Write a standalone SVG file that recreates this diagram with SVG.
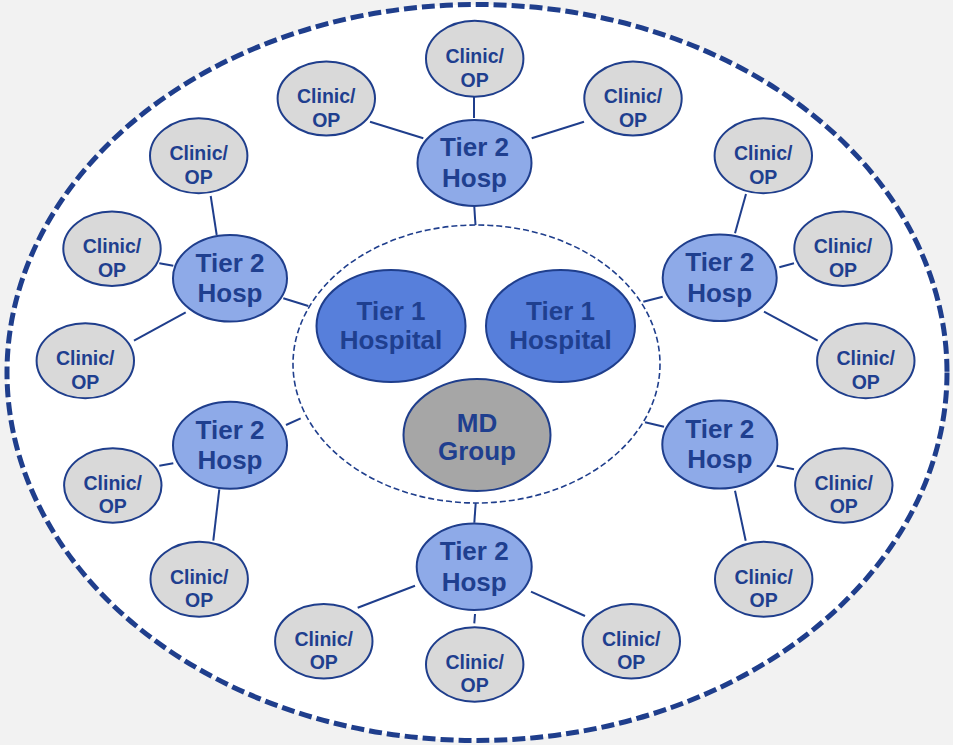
<svg xmlns="http://www.w3.org/2000/svg" width="953" height="745" viewBox="0 0 953 745">
<style>
.bg{fill:#f2f2f2}
.outer{fill:#ffffff;stroke:#1f3e8c;stroke-width:5;stroke-dasharray:13 5}
.inner{fill:none;stroke:#1f3e8c;stroke-width:1.6;stroke-dasharray:6 3}
.t1{fill:#577fdb;stroke:#1f3e8c;stroke-width:2}
.t2{fill:#8eaae8;stroke:#1f3e8c;stroke-width:2}
.md{fill:#a6a6a6;stroke:#1f3e8c;stroke-width:2}
.cl{fill:#d9d9d9;stroke:#1f3e8c;stroke-width:2}
.ln line{stroke:#1f3e8c;stroke-width:2}
text{font-family:"Liberation Sans",Arial,sans-serif;font-weight:bold;fill:#1f3f8f;text-anchor:middle}
.big{font-size:26px}
.sm{font-size:19.5px}
</style>
<rect class="bg" x="0" y="0" width="953" height="745"/>
<ellipse class="outer" cx="477" cy="372.5" rx="470" ry="368"/>
<ellipse class="inner" cx="476.5" cy="364" rx="183.5" ry="139"/>

<g id="connectors" class="ln">
<line x1="474" y1="97" x2="474" y2="118"/>
<line x1="370" y1="121.7" x2="423.3" y2="138.3"/>
<line x1="531.7" y1="138.3" x2="584" y2="121.7"/>
<line x1="474.3" y1="207" x2="475.5" y2="225"/>
<line x1="210.7" y1="196" x2="216.7" y2="235"/>
<line x1="159.3" y1="263.3" x2="173.3" y2="265.7"/>
<line x1="134" y1="340.7" x2="185.7" y2="312.3"/>
<line x1="283.3" y1="298.3" x2="308.3" y2="306"/>
<line x1="746" y1="194" x2="735" y2="233.3"/>
<line x1="779.3" y1="267.3" x2="794" y2="263.3"/>
<line x1="764" y1="311.7" x2="817.7" y2="340.7"/>
<line x1="662.7" y1="296.7" x2="643.3" y2="301.7"/>
<line x1="159.3" y1="465.7" x2="173.3" y2="463.3"/>
<line x1="219.3" y1="489.3" x2="213.3" y2="540.7"/>
<line x1="286" y1="425" x2="300.7" y2="418.3"/>
<line x1="776.7" y1="465.7" x2="794" y2="469.3"/>
<line x1="735" y1="490.7" x2="745.7" y2="540.7"/>
<line x1="645" y1="422.3" x2="664" y2="426.7"/>
<line x1="475.7" y1="503" x2="474.3" y2="522.7"/>
<line x1="415" y1="585.7" x2="357.7" y2="607.7"/>
<line x1="475" y1="614" x2="474.3" y2="623.3"/>
<line x1="531" y1="591.7" x2="585" y2="616"/>
</g>

<g id="tier1-left"><ellipse class="t1" cx="391" cy="326" rx="74.5" ry="56"/><text class="big" x="391" y="320">Tier 1</text><text class="big" x="391" y="349">Hospital</text></g>
<g id="tier1-right"><ellipse class="t1" cx="560.5" cy="326" rx="74.5" ry="56"/><text class="big" x="560.5" y="320">Tier 1</text><text class="big" x="560.5" y="349">Hospital</text></g>
<g id="md-group"><ellipse class="md" cx="477" cy="435" rx="73.5" ry="56"/><text class="big" x="477" y="431.5">MD</text><text class="big" x="477" y="460">Group</text></g>

<g id="t2-top"><ellipse class="t2" cx="474.5" cy="163" rx="57" ry="43"/><text class="big" x="474.5" y="156">Tier 2</text><text class="big" x="474.5" y="186.5">Hosp</text></g>
<g id="t2-ul"><ellipse class="t2" cx="230" cy="278.3" rx="57" ry="43.3"/><text class="big" x="230" y="271.5">Tier 2</text><text class="big" x="230" y="302">Hosp</text></g>
<g id="t2-ur"><ellipse class="t2" cx="719.7" cy="277.8" rx="57" ry="43.3"/><text class="big" x="719.7" y="271">Tier 2</text><text class="big" x="719.7" y="301.5">Hosp</text></g>
<g id="t2-ll"><ellipse class="t2" cx="230" cy="445.3" rx="57" ry="43.5"/><text class="big" x="230" y="438.5">Tier 2</text><text class="big" x="230" y="469">Hosp</text></g>
<g id="t2-lr"><ellipse class="t2" cx="719.8" cy="444.5" rx="57.5" ry="44"/><text class="big" x="719.8" y="437.5">Tier 2</text><text class="big" x="719.8" y="468">Hosp</text></g>
<g id="t2-bottom"><ellipse class="t2" cx="474.2" cy="566.7" rx="57.5" ry="43.3"/><text class="big" x="474.2" y="560">Tier 2</text><text class="big" x="474.2" y="590.5">Hosp</text></g>

<g id="c-top-mid"><ellipse class="cl" cx="474.7" cy="58.7" rx="48.7" ry="38"/><text class="sm" x="474.7" y="63">Clinic/</text><text class="sm" x="474.7" y="86.5">OP</text></g>
<g id="c-top-left"><ellipse class="cl" cx="326.3" cy="98.5" rx="48.7" ry="37"/><text class="sm" x="326.3" y="103">Clinic/</text><text class="sm" x="326.3" y="126.5">OP</text></g>
<g id="c-top-right"><ellipse class="cl" cx="633" cy="98.5" rx="48.7" ry="37"/><text class="sm" x="633" y="103">Clinic/</text><text class="sm" x="633" y="126.5">OP</text></g>

<g id="c-ul-top"><ellipse class="cl" cx="198.7" cy="155.8" rx="48.7" ry="37.5"/><text class="sm" x="198.7" y="160">Clinic/</text><text class="sm" x="198.7" y="183.5">OP</text></g>
<g id="c-ul-mid"><ellipse class="cl" cx="112" cy="248.8" rx="48.7" ry="37.2"/><text class="sm" x="112" y="253">Clinic/</text><text class="sm" x="112" y="276.5">OP</text></g>
<g id="c-ul-bot"><ellipse class="cl" cx="85.3" cy="360.8" rx="48.7" ry="37.5"/><text class="sm" x="85.3" y="365">Clinic/</text><text class="sm" x="85.3" y="388.5">OP</text></g>

<g id="c-ur-top"><ellipse class="cl" cx="763.3" cy="155.8" rx="48.7" ry="37.5"/><text class="sm" x="763.3" y="160">Clinic/</text><text class="sm" x="763.3" y="183.5">OP</text></g>
<g id="c-ur-mid"><ellipse class="cl" cx="843" cy="248.8" rx="48.7" ry="37.2"/><text class="sm" x="843" y="253">Clinic/</text><text class="sm" x="843" y="276.5">OP</text></g>
<g id="c-ur-bot"><ellipse class="cl" cx="865.8" cy="360.8" rx="48.7" ry="37.5"/><text class="sm" x="865.8" y="365">Clinic/</text><text class="sm" x="865.8" y="388.5">OP</text></g>

<g id="c-ll-left"><ellipse class="cl" cx="112.8" cy="485.5" rx="48.7" ry="37.2"/><text class="sm" x="112.8" y="489.5">Clinic/</text><text class="sm" x="112.8" y="513">OP</text></g>
<g id="c-ll-bot"><ellipse class="cl" cx="199.2" cy="579.2" rx="48.7" ry="37.5"/><text class="sm" x="199.2" y="583.5">Clinic/</text><text class="sm" x="199.2" y="607">OP</text></g>

<g id="c-lr-right"><ellipse class="cl" cx="843.8" cy="485.5" rx="48.7" ry="37.2"/><text class="sm" x="843.8" y="489.5">Clinic/</text><text class="sm" x="843.8" y="513">OP</text></g>
<g id="c-lr-bot"><ellipse class="cl" cx="763.7" cy="579.2" rx="48.7" ry="37.5"/><text class="sm" x="763.7" y="583.5">Clinic/</text><text class="sm" x="763.7" y="607">OP</text></g>

<g id="c-b-left"><ellipse class="cl" cx="323.8" cy="641.2" rx="48.7" ry="37.2"/><text class="sm" x="323.8" y="645.5">Clinic/</text><text class="sm" x="323.8" y="669">OP</text></g>
<g id="c-b-mid"><ellipse class="cl" cx="474.7" cy="664.5" rx="48.7" ry="37.2"/><text class="sm" x="474.7" y="668.5">Clinic/</text><text class="sm" x="474.7" y="692">OP</text></g>
<g id="c-b-right"><ellipse class="cl" cx="631.3" cy="641.2" rx="48.7" ry="37.2"/><text class="sm" x="631.3" y="645.5">Clinic/</text><text class="sm" x="631.3" y="669">OP</text></g>
</svg>
